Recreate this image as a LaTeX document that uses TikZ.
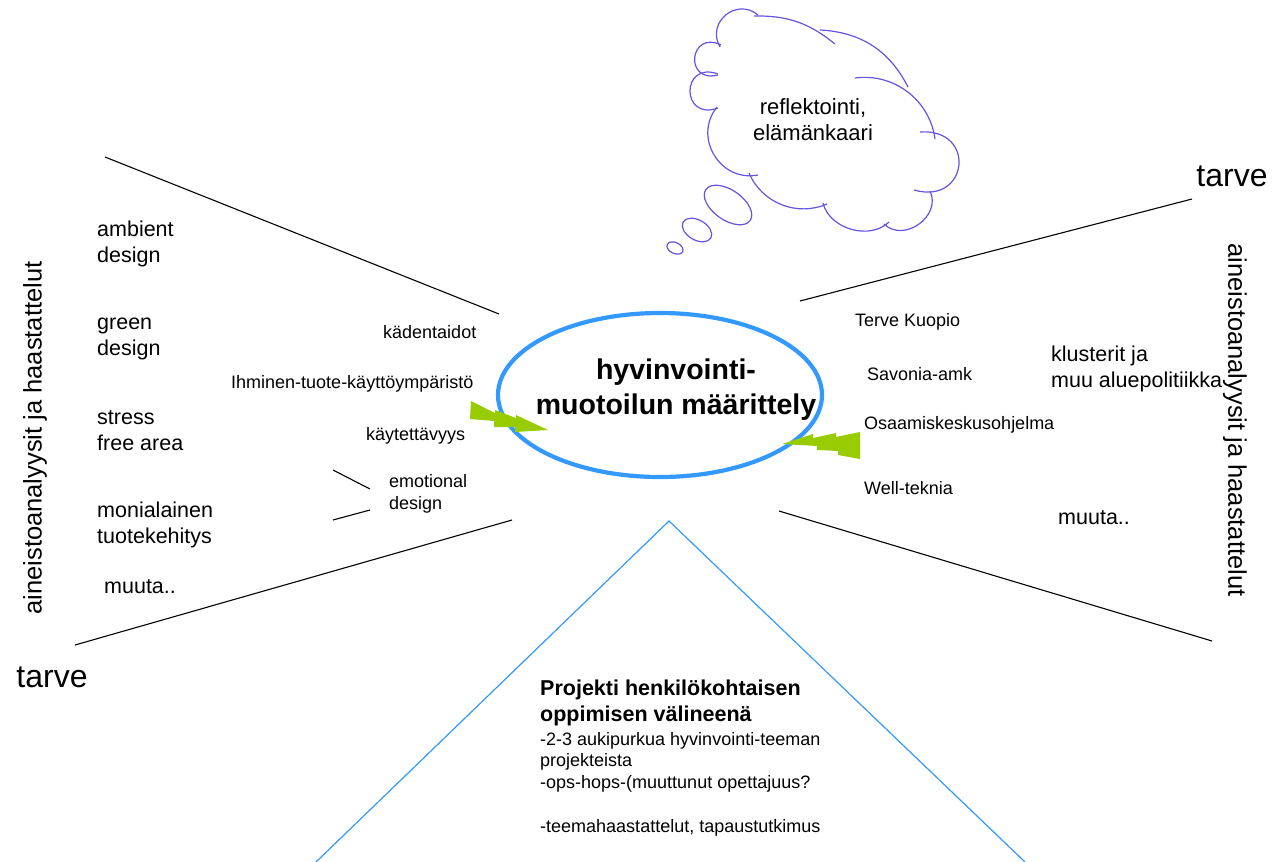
\documentclass[tikz,border=0pt]{standalone}
\usepackage{fontspec}
\setmainfont{Liberation Sans}
\usepackage{tikz}

\definecolor{ovalblue}{RGB}{51,153,255}
\definecolor{cloudviolet}{RGB}{100,84,226}
\definecolor{boltgreen}{RGB}{153,204,0}

\tikzset{
  bigtxt/.style={anchor=west,align=left,inner sep=0pt,font=\fontsize{21.5}{26}\selectfont},
  smalltxt/.style={anchor=west,align=left,inner sep=0pt,font=\fontsize{18}{22}\selectfont},
  sidetxt/.style={inner sep=0pt,font=\fontsize{25.5}{30}\selectfont},
  tarvetxt/.style={inner sep=0pt,font=\fontsize{32}{36}\selectfont},
  puff/.style={draw=cloudviolet,line width=1.2pt},
  divider/.style={draw=black,line width=1.1pt}
}

\begin{document}
\begin{tikzpicture}[x=1pt,y=1pt,yscale=-1,xscale=1]
\useasboundingbox (0,0) rectangle (1272,862);

%Shape: Ellipse [id:oval]
\draw [color=ovalblue, line width=4.2pt] (660,395) ellipse [x radius=162, y radius=82];

%Straight Lines [id:upleft]
\draw [divider] (105,157) -- (499,314);
%Straight Lines [id:upright]
\draw [divider] (800,301) -- (1192,199);
%Straight Lines [id:downleft]
\draw [divider] (512,520) -- (75,645);
%Straight Lines [id:downright]
\draw [divider] (779,511) -- (1212,641);
%Straight Lines [id:emotop]
\draw [divider] (333,470) -- (370,489);
%Straight Lines [id:emobottom]
\draw [divider] (333,520) -- (370,510);

%Shape: Triangle [id:project]
\draw [color=ovalblue, line width=1.2pt] (316,862) -- (669,521) -- (1025,862);

%Shape: Lightning left [id:boltleft]
\fill [boltgreen] (471,401) -- (495,413) -- (495,410) -- (516,418) -- (516,415) -- (548,430) -- (515,432) -- (515,427) -- (494,427) -- (494,421) -- (470,419) -- cycle;
%Shape: Lightning right [id:boltright]
\fill [boltgreen] (782,444) -- (813,434) -- (813,438) -- (836,433) -- (836,437) -- (860,432) -- (860,459) -- (838,455) -- (838,451) -- (817,450) -- (817,446) -- cycle;

%Shape: Cloud [id:cloud]
\draw [puff] (718,75) to[bend right=110, looseness=3] (721,45);
\draw [puff] (720,47) to[bend right=80, looseness=1.45] (758,15);
\draw [puff] (754,16) to[bend right=20] (835,44);
\draw [puff] (820,30) to[bend right=30] (908,87);
\draw [puff] (855,78) to[bend right=45] (935,139);
\draw [puff] (920,132) to[bend right=100, looseness=2.5] (914,190);
\draw [puff] (930,191) to[bend right=80, looseness=1.25] (884,224);
\draw [puff] (889,222) to[bend right=60] (823,203);
\draw [puff] (827,204) to[bend right=45] (749,173);
\draw [puff] (758,175) to[bend right=70, looseness=1.25] (717,107);
\draw [puff] (718,108) to[bend right=110, looseness=3] (718,74);

%Shape: Bubbles [id:bubbles]
\draw [puff] (728,205) ellipse [x radius=27, y radius=15, rotate=35];
\draw [puff] (697,230) ellipse [x radius=16, y radius=10, rotate=30];
\draw [puff] (675,248) ellipse [x radius=8.5, y radius=5.5, rotate=25];

% Text Node
\node (title) [inner sep=0pt, align=center, font=\bfseries\fontsize{28.5}{35}\selectfont] at (676,390) {hyvinvointi-\\muotoilun määrittely};
% Text Node
\node (reflect) [inner sep=0pt, align=center, font=\fontsize{22}{26}\selectfont] at (813,120) {reflektointi,\\elämänkaari};

% Text Node
\node (ambient) [bigtxt] at (97,244) {ambient\\design};
% Text Node
\node (green) [bigtxt] at (97,339) {green\\design};
% Text Node
\node (stress) [bigtxt] at (97,431) {stress\\free area};
% Text Node
\node (moni) [bigtxt] at (97,525) {monialainen\\tuotekehitys};
% Text Node
\node (muutaleft) [bigtxt] at (104,587) {muuta..};
% Text Node
\node (tarveleft) [tarvetxt] at (52,677) {tarve};
% Text Node
\node (tarveright) [tarvetxt] at (1232,176) {tarve};
% Text Node
\node (sideleft) [sidetxt, rotate=90] at (35,438) {aineistoanalyysit ja haastattelut};
% Text Node
\node (sideright) [sidetxt, rotate=-90] at (1235,420) {aineistoanalyysit ja haastattelut};

% Text Node
\node (kaden) [smalltxt] at (383,332) {kädentaidot};
% Text Node
\node (ihminen) [smalltxt] at (231,384) {Ihminen-tuote-käyttöympäristö};
% Text Node
\node (kaytet) [smalltxt] at (366,436) {käytettävyys};
% Text Node
\node (emotion) [smalltxt] at (389,494) {emotional\\design};

% Text Node
\node (terve) [smalltxt] at (855,322) {Terve Kuopio};
% Text Node
\node (savonia) [smalltxt] at (867,374) {Savonia-amk};
% Text Node
\node (osaamis) [smalltxt] at (864,425) {Osaamiskeskusohjelma};
% Text Node
\node (well) [smalltxt] at (864,488) {Well-teknia};
% Text Node
\node (klusterit) [bigtxt] at (1051,369) {klusterit ja\\muu aluepolitiikka};
% Text Node
\node (muutaright) [bigtxt] at (1058,518) {muuta..};

% Text Node
\node (projhead) [anchor=west, align=left, inner sep=0pt, font=\bfseries\fontsize{21.5}{26}\selectfont] at (540,703) {Projekti henkilökohtaisen\\oppimisen välineenä};
% Text Node
\node (projbody) [anchor=west, align=left, inner sep=0pt, font=\fontsize{18}{21.7}\selectfont] at (540,784) {-2-3 aukipurkua hyvinvointi-teeman\\projekteista\\-ops-hops-(muuttunut opettajuus?\\[21.7pt]-teemahaastattelut, tapaustutkimus};

\end{tikzpicture}
\end{document}
